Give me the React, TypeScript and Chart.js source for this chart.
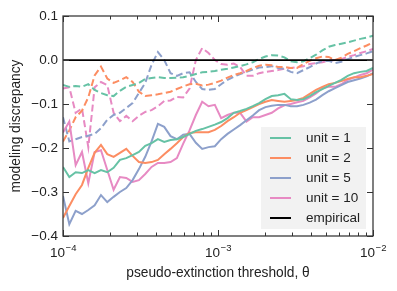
import React, { useEffect, useRef } from "react";
import { Chart, registerables } from "chart.js";

Chart.register(...registerables);

// pseudo-extinction thresholds (log-spaced samples)
const thresholds = [
  1.0e-4, 1.0985e-4, 1.2068e-4, 1.3257e-4, 1.4563e-4, 1.5999e-4, 1.7575e-4, 1.9307e-4, 2.121e-4, 2.33e-4,
  2.5595e-4, 2.8118e-4, 3.0888e-4, 3.3932e-4, 3.7276e-4, 4.0949e-4, 4.4984e-4, 4.9417e-4, 5.4287e-4, 5.9636e-4,
  6.5513e-4, 7.1969e-4, 7.906e-4, 8.6851e-4, 9.541e-4, 1.0481e-3, 1.1514e-3, 1.2649e-3, 1.3895e-3, 1.5264e-3,
  1.6768e-3, 1.8421e-3, 2.0236e-3, 2.223e-3, 2.4421e-3, 2.6827e-3, 2.9471e-3, 3.2375e-3, 3.5565e-3, 3.907e-3,
  4.2919e-3, 4.7149e-3, 5.1795e-3, 5.6899e-3, 6.2506e-3, 6.8665e-3, 7.5431e-3, 8.2864e-3, 9.103e-3, 1.0e-2,
];

// solid lines
const unit1Solid = [
  -0.243, -0.266, -0.255, -0.257, -0.25, -0.257, -0.25, -0.255, -0.245, -0.227,
  -0.223, -0.216, -0.209, -0.195, -0.189, -0.18, -0.186, -0.182, -0.18, -0.175,
  -0.168, -0.161, -0.157, -0.152, -0.147, -0.141, -0.132, -0.12, -0.116, -0.111,
  -0.105, -0.098, -0.089, -0.082, -0.08, -0.077, -0.089, -0.091, -0.089, -0.082,
  -0.073, -0.066, -0.059, -0.052, -0.045, -0.036, -0.03, -0.027, -0.025, -0.018,
];
const unit2Solid = [
  -0.359, -0.332, -0.305, -0.284, -0.245, -0.211, -0.193, -0.214, -0.22, -0.211,
  -0.202, -0.218, -0.232, -0.234, -0.232, -0.227, -0.214, -0.202, -0.189, -0.175,
  -0.166, -0.164, -0.164, -0.164, -0.159, -0.15, -0.139, -0.13, -0.12, -0.114,
  -0.107, -0.1, -0.095, -0.091, -0.093, -0.095, -0.093, -0.091, -0.086, -0.077,
  -0.068, -0.061, -0.055, -0.052, -0.048, -0.043, -0.039, -0.039, -0.036, -0.032,
];
const unit5Solid = [
  -0.309, -0.373, -0.343, -0.35, -0.341, -0.33, -0.307, -0.323, -0.311, -0.3,
  -0.291, -0.273, -0.248, -0.22, -0.185, -0.145, -0.152, -0.173, -0.18, -0.17,
  -0.168, -0.188, -0.202, -0.198, -0.196, -0.18, -0.168, -0.158, -0.148, -0.137,
  -0.126, -0.114, -0.107, -0.104, -0.102, -0.102, -0.105, -0.105, -0.102, -0.097,
  -0.09, -0.08, -0.071, -0.064, -0.057, -0.05, -0.046, -0.042, -0.037, -0.03,
];
const unit10Solid = [
  -0.165, -0.14, -0.239, -0.209, -0.28, -0.209, -0.205, -0.25, -0.295, -0.266,
  -0.268, -0.277, -0.273, -0.259, -0.243, -0.234, -0.234, -0.232, -0.223, -0.19,
  -0.16, -0.125, -0.095, -0.105, -0.102, -0.132, -0.125, -0.12, -0.12, -0.14,
  -0.13, -0.13, -0.125, -0.12, -0.11, -0.103, -0.1, -0.096, -0.093, -0.085,
  -0.076, -0.064, -0.061, -0.061, -0.055, -0.045, -0.04, -0.034, -0.03, -0.022,
];

// dashed lines
const unit1Dashed = [
  -0.057, -0.061, -0.059, -0.061, -0.055, -0.068, -0.075, -0.08, -0.082, -0.07,
  -0.061, -0.057, -0.052, -0.043, -0.041, -0.039, -0.041, -0.041, -0.04, -0.039,
  -0.036, -0.032, -0.028, -0.027, -0.025, -0.022, -0.02, -0.017, -0.014, -0.01,
  -0.005, 0.002, 0.008, 0.011, 0.01, 0.006, -0.003, -0.005, -0.003, 0.004,
  0.012, 0.022, 0.03, 0.034, 0.037, 0.04, 0.044, 0.048, 0.051, 0.055,
];
const unit2Dashed = [
  -0.185, -0.16, -0.13, -0.115, -0.085, -0.035, -0.015, -0.042, -0.052, -0.046,
  -0.039, -0.05, -0.072, -0.082, -0.08, -0.078, -0.075, -0.072, -0.066, -0.06,
  -0.055, -0.054, -0.058, -0.056, -0.052, -0.047, -0.04, -0.034, -0.03, -0.025,
  -0.018, -0.013, -0.011, -0.012, -0.016, -0.016, -0.018, -0.018, -0.009, -0.002,
  0.004, 0.008, 0.007, 0.0, 0.005, 0.014, 0.02, 0.027, 0.033, 0.04,
];
const unit5Dashed = [
  -0.13, -0.185, -0.18, -0.175, -0.172, -0.168, -0.155, -0.136, -0.125, -0.12,
  -0.109, -0.098, -0.075, -0.052, -0.011, 0.018, 0.0, -0.03, -0.036, -0.03,
  -0.028, -0.05, -0.066, -0.068, -0.066, -0.055, -0.045, -0.038, -0.032, -0.027,
  -0.022, -0.017, -0.016, -0.014, -0.018, -0.02, -0.027, -0.03, -0.023, -0.016,
  -0.008, -0.002, -0.002, -0.007, -0.004, 0.002, 0.007, 0.011, 0.015, 0.02,
];
const unit10Dashed = [
  -0.065, -0.062, -0.12, -0.11, -0.198, -0.062, -0.05, -0.057, -0.12, -0.139,
  -0.127, -0.139, -0.127, -0.118, -0.114, -0.105, -0.093, -0.092, -0.084, -0.085,
  -0.065, 0.0, 0.027, 0.016, 0.0, -0.009, -0.011, -0.008, -0.016, -0.036,
  -0.036, -0.03, -0.027, -0.025, -0.023, -0.02, -0.018, -0.016, -0.014, -0.009,
  -0.007, -0.005, -0.002, 0.0, 0.002, 0.007, 0.011, 0.016, 0.02, 0.025,
];

const empiricalX = [1e-4, 1e-2];
const empiricalY = [0, 0];

const seriesNames = ["unit = 1", "unit = 2", "unit = 5", "unit = 10"];
const empiricalName = "empirical";

const xTickValues = [
  1e-4, 2e-4, 3e-4, 4e-4, 5e-4, 6e-4, 7e-4, 8e-4, 9e-4,
  1e-3, 2e-3, 3e-3, 4e-3, 5e-3, 6e-3, 7e-3, 8e-3, 9e-3, 1e-2,
];
const xMajorTicks = [1e-4, 1e-3, 1e-2];
const xMajorBase = ["10", "10", "10"];
const xMajorExponents = ["\u22124", "\u22123", "\u22122"];
const yTickValues = [-0.4, -0.3, -0.2, -0.1, 0.0, 0.1];
const yTickLabels = ["\u22120.4", "\u22120.3", "\u22120.2", "\u22120.1", "0.0", "0.1"];

const colors = ["#66c2a5", "#fc8d62", "#8da0cb", "#e78ac3"];
const FONT = "'Liberation Sans', Arial, Helvetica, sans-serif";

const toPoints = (ys: number[]) => thresholds.map((x, i) => ({ x, y: ys[i] }));
const majorIndex = (v: number) => xMajorTicks.findIndex((m) => Math.abs(m - v) / m < 1e-6);

const framePlugin = {
  id: "frameTicksLegend",
  afterDraw(chart: any) {
    const { ctx, chartArea } = chart;
    const { left, right, top, bottom } = chartArea;
    const xs = chart.scales.x;
    const ys = chart.scales.y;
    ctx.save();
    ctx.strokeStyle = "#333";
    ctx.lineWidth = 1;
    xs.ticks.forEach((t: any) => {
      const px = Math.round(xs.getPixelForValue(t.value)) + 0.5;
      const len = majorIndex(t.value) >= 0 ? 6 : 3.5;
      ctx.beginPath();
      ctx.moveTo(px, bottom);
      ctx.lineTo(px, bottom - len);
      ctx.moveTo(px, top);
      ctx.lineTo(px, top + len);
      ctx.stroke();
    });
    ys.ticks.forEach((t: any) => {
      const py = Math.round(ys.getPixelForValue(t.value)) + 0.5;
      ctx.beginPath();
      ctx.moveTo(left, py);
      ctx.lineTo(left + 6, py);
      ctx.moveTo(right, py);
      ctx.lineTo(right - 6, py);
      ctx.stroke();
    });
    ctx.lineWidth = 1.25;
    ctx.strokeRect(left, top, right - left, bottom - top);

    // x major tick labels with superscript exponents
    ctx.fillStyle = "#222";
    ctx.textBaseline = "alphabetic";
    ctx.textAlign = "left";
    xMajorTicks.forEach((v, i) => {
      const px = xs.getPixelForValue(v);
      ctx.font = `13.5px ${FONT}`;
      const wb = ctx.measureText(xMajorBase[i]).width;
      ctx.font = `9.5px ${FONT}`;
      const we = ctx.measureText(xMajorExponents[i]).width;
      const x0 = px - (wb + we) / 2;
      ctx.font = `13.5px ${FONT}`;
      ctx.fillText(xMajorBase[i], x0, bottom + 21);
      ctx.font = `9.5px ${FONT}`;
      ctx.fillText(xMajorExponents[i], x0 + wb + 0.5, bottom + 15);
    });

    // legend
    const items = seriesNames.map((n, i) => ({ label: n, color: colors[i] }));
    items.push({ label: empiricalName, color: "#000" });
    ctx.font = `13.5px ${FONT}`;
    const maxW = Math.max(...items.map((it) => ctx.measureText(it.label).width));
    const rowH = 20;
    const boxW = 9 + 21 + 15 + maxW + 6;
    const boxH = items.length * rowH + 2;
    const bx = right - 7 - boxW;
    const by = bottom - 7 - boxH;
    ctx.fillStyle = "rgba(241,241,241,0.95)";
    ctx.fillRect(bx, by, boxW, boxH);
    ctx.textBaseline = "middle";
    ctx.textAlign = "left";
    items.forEach((it, i) => {
      const cy = by + 11 + i * rowH;
      ctx.strokeStyle = it.color;
      ctx.lineWidth = 2;
      ctx.beginPath();
      ctx.moveTo(bx + 9, cy);
      ctx.lineTo(bx + 30, cy);
      ctx.stroke();
      ctx.fillStyle = "#222";
      ctx.fillText(it.label, bx + 45, cy);
    });
    ctx.restore();
  },
};

export default function App() {
  const ref = useRef<HTMLCanvasElement | null>(null);

  useEffect(() => {
    if (!ref.current) return;
    Chart.defaults.font.family = FONT;
    Chart.defaults.color = "#222";

    const solid = [unit1Solid, unit2Solid, unit5Solid, unit10Solid];
    const dashed = [unit1Dashed, unit2Dashed, unit5Dashed, unit10Dashed];

    const datasets: any[] = [
      {
        label: empiricalName,
        data: empiricalX.map((x, i) => ({ x, y: empiricalY[i] })),
        borderColor: "#000",
        borderWidth: 1.75,
        pointRadius: 0,
      },
    ];
    solid.forEach((s, i) => {
      datasets.push({
        label: seriesNames[i],
        data: toPoints(s),
        borderColor: colors[i],
        borderWidth: 2,
        pointRadius: 0,
      });
    });
    dashed.forEach((s, i) => {
      datasets.push({
        label: seriesNames[i] + " (dashed)",
        data: toPoints(s),
        borderColor: colors[i],
        borderWidth: 2,
        borderDash: [7, 3.5],
        pointRadius: 0,
      });
    });

    const chart = new Chart(ref.current, {
      type: "line",
      data: { datasets },
      options: {
        animation: false,
        responsive: false,
        devicePixelRatio: 1,
        layout: { padding: { top: 16, right: 24, left: 0, bottom: 0 } },
        plugins: { legend: { display: false }, tooltip: { enabled: false } },
        elements: { line: { tension: 0 } },
        scales: {
          x: {
            type: "logarithmic",
            min: 1e-4,
            max: 1e-2,
            grid: { display: false, drawTicks: false },
            border: { display: false },
            afterBuildTicks: (scale: any) => {
              scale.ticks = xTickValues.map((v) => ({ value: v }));
            },
            afterFit: (scale: any) => {
              scale.height = 55;
            },
            ticks: {
              autoSkip: false,
              maxRotation: 0,
              padding: 8,
              font: { size: 13 },
              color: "#222",
              // major labels (10 with superscript exponent) are drawn by the plugin
              callback: () => "",
            },
            title: {
              display: true,
              text: "pseudo-extinction threshold, \u03B8",
              font: { size: 13.75 },
              color: "#222",
              padding: { top: 0, bottom: 10 },
            },
          },
          y: {
            type: "linear",
            min: -0.4,
            max: 0.1,
            grid: { display: false, drawTicks: false },
            border: { display: false },
            afterBuildTicks: (scale: any) => {
              scale.ticks = yTickValues.map((v) => ({ value: v }));
            },
            afterFit: (scale: any) => {
              scale.width = 63;
            },
            ticks: {
              padding: 5,
              font: { size: 13.5 },
              color: "#222",
              callback: (value: any) => {
                const idx = yTickValues.findIndex((v) => Math.abs(v - Number(value)) < 1e-9);
                return idx >= 0 ? yTickLabels[idx] : "";
              },
            },
            title: {
              display: true,
              text: "modeling discrepancy",
              font: { size: 13.75 },
              color: "#222",
              padding: { top: 8, bottom: 0 },
            },
          },
        },
      },
      plugins: [framePlugin],
    } as any);

    return () => chart.destroy();
  }, []);

  return (
    <div style={{ position: "fixed", left: 0, top: 0, width: 397, height: 291, background: "#fff" }}>
      <canvas ref={ref} width={397} height={291} style={{ display: "block", width: 397, height: 291 }} />
    </div>
  );
}
